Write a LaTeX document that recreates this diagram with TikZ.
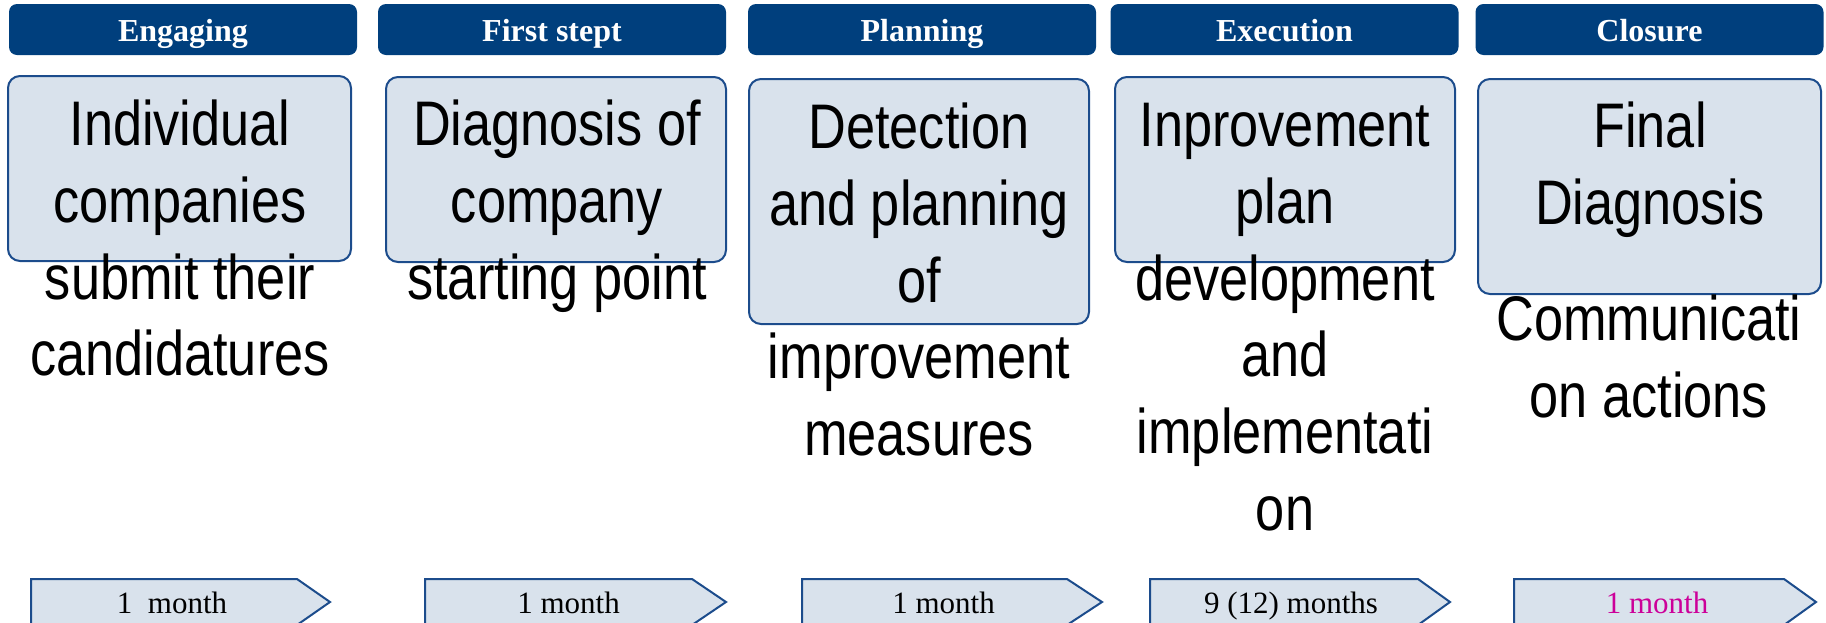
\documentclass[tikz,border=0pt]{standalone}
\usepackage{fontspec}
\newfontfamily\colfont[FakeStretch=0.83]{Liberation Sans}
\newfontfamily\tnrfont{Liberation Serif}
\definecolor{hdrblue}{RGB}{0,63,125}
\definecolor{boxfill}{RGB}{217,226,236}
\definecolor{boxline}{RGB}{28,76,140}
\definecolor{pinktxt}{RGB}{204,0,153}
\tikzset{
  hdr/.style={fill=hdrblue, rounded corners=4pt, minimum width=174pt, minimum height=25.5pt,
    inner sep=0pt, text=white, font=\tnrfont\bfseries\fontsize{16}{19}\selectfont,
    text height=11.5pt, text depth=0pt},
  card/.style={fill=boxfill, draw=boxline, line width=1pt, rounded corners=6pt},
  coltext/.style={anchor=north, inner sep=0pt, align=center,
    font=\colfont\fontsize{31.5}{38.4}\selectfont},
  dur/.style={fill=boxfill, draw=boxline, line width=1pt, line join=miter},
  durtext/.style={anchor=base, inner sep=0pt, font=\tnrfont\fontsize{15.5}{18}\selectfont},
}
\newcommand{\firstline}{\rule{0pt}{27pt}}
\begin{document}
\begin{tikzpicture}[x=0.5pt,y=-0.5pt]
\useasboundingbox (0,0) rectangle (1826,622);
\clip (0,0) rectangle (1826,622);

% headers
\node[hdr] (h1) at (183,29.5) {Engaging};
\node[hdr] (h2) at (552,29.5) {First stept};
\node[hdr] (h3) at (922,29.5) {Planning};
\node[hdr] (h4) at (1284.5,29.5) {Execution};
\node[hdr] (h5) at (1649.5,29.5) {Closure};

% cards
\draw[card] (8,76) rectangle (351,261);
\draw[card] (386,77) rectangle (726,262);
\draw[card] (749,79) rectangle (1089,324);
\draw[card] (1115,77) rectangle (1455,262);
\draw[card] (1478,79) rectangle (1821,294);

% column texts
\node[coltext] (t1) at (180,91) {\firstline Individual\\companies\\submit their\\candidatures};
\node[coltext] (t2) at (557,91) {\firstline Diagnosis of\\company\\starting point};
\node[coltext] (t3) at (919,94) {\firstline Detection\\and planning\\of\\improvement\\measures};
\node[coltext] (t4) at (1285,92) {\firstline Inprovement\\plan\\development\\and\\implementati\\on};
\node[coltext] (t5) at (1650,93) {\firstline Final\\Diagnosis};
\node[coltext] (t6) at (1649,286) {\firstline Communicati\\on actions};

% duration arrows
\draw[dur] (31,579) -- (297,579) -- (330,602) -- (297,625) -- (31,625) -- cycle;
\draw[dur] (425,579) -- (692,579) -- (726,602) -- (692,625) -- (425,625) -- cycle;
\draw[dur] (802,579) -- (1067,579) -- (1102,602) -- (1067,625) -- (802,625) -- cycle;
\draw[dur] (1150,579) -- (1418,579) -- (1450,602) -- (1418,625) -- (1150,625) -- cycle;
\draw[dur] (1514,579) -- (1784,579) -- (1816,602) -- (1784,625) -- (1514,625) -- cycle;

\node[durtext] (d1) at (172,613) {1\ \ month};
\node[durtext] (d2) at (568.5,613) {1 month};
\node[durtext] (d3) at (943.5,613) {1 month};
\node[durtext] (d4) at (1291,613) {9 (12) months};
\node[durtext, text=pinktxt] (d5) at (1657,613) {1 month};
\end{tikzpicture}
\end{document}
